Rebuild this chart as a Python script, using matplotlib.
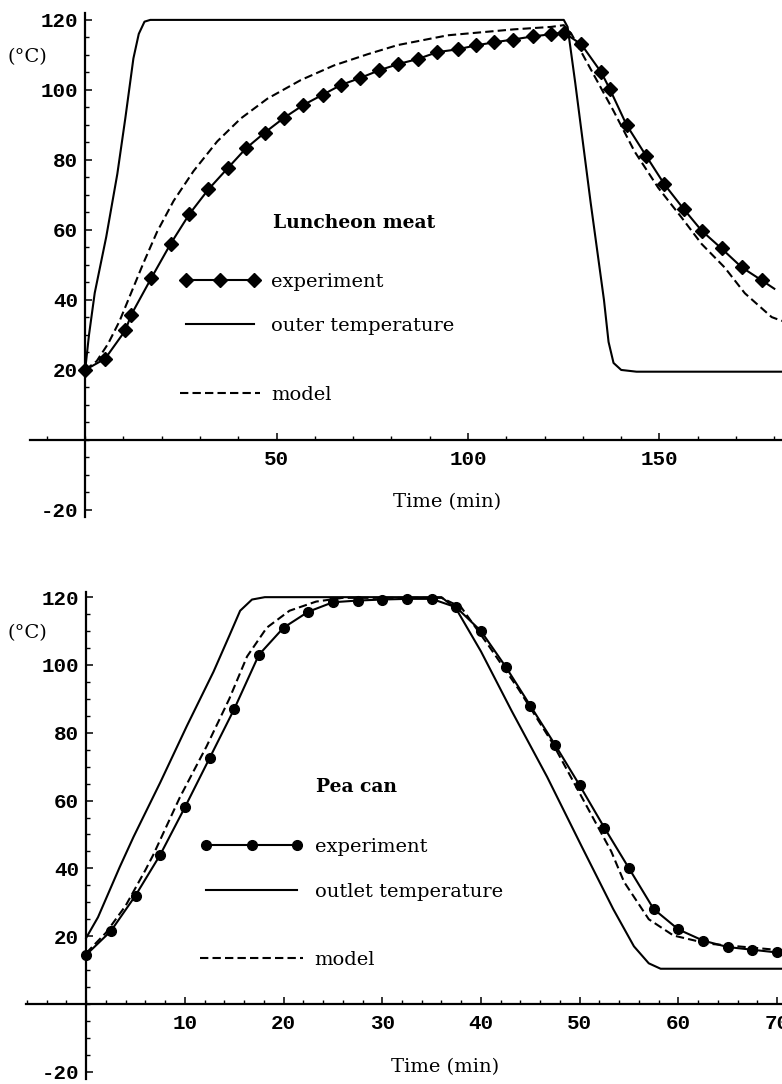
import matplotlib
matplotlib.use('Agg')
import matplotlib.pyplot as plt
from matplotlib.lines import Line2D
from matplotlib.ticker import FixedLocator, MultipleLocator

# --- Luncheon meat (top panel) ---
meat_exp_time = [0, 5.2, 10.5, 12, 17.3, 22.3, 27.2, 32.2, 37.2, 42, 46.9, 51.9, 57, 62,
                 66.8, 71.8, 76.8, 81.8, 86.8, 92, 97.3, 102, 106.8, 111.8, 117, 121.7,
                 125, 129.6, 134.8, 137, 141.4, 146.6, 151.3, 156.3, 161, 166.2, 171.5,
                 176.7, 180]
meat_exp_temp = [20, 23.2, 31.3, 35.7, 46.3, 56, 64.5, 71.6, 77.6, 83.3, 87.8, 92, 95.7, 98.6,
                 101.4, 103.4, 105.6, 107.4, 108.8, 110.8, 111.6, 112.7, 113.6, 114.4, 115.3,
                 115.9, 116.4, 113, 105, 100.3, 90, 81, 73, 66, 59.8, 54.7, 49.3, 45.6, 43.2]
meat_outer_time = [0, 1, 2.5, 5.5, 8.4, 10.5, 12.6, 14, 15.5, 17, 125, 126, 128, 130, 132,
                   134, 135.5, 136.7, 138, 140, 144, 182]
meat_outer_temp = [20, 30, 42, 58, 76, 92, 109, 116, 119.5, 120, 120, 118, 102, 85, 68,
                   52, 40, 28, 22, 20, 19.5, 19.5]
meat_model_time = [0, 3, 6, 9, 12, 15.2, 18.8, 23.1, 28.3, 34.5, 40.6, 47.6, 56.3, 65, 73.8,
                   81.6, 94.7, 112, 121.7, 125, 127, 130, 134, 138, 143.5, 149.7, 155.8, 161,
                   167, 172.3, 179.3, 182]
meat_model_temp = [20, 22.5, 27.5, 34, 42, 50.5, 59.5, 68.3, 76.8, 85.3, 91.8, 97.5, 102.8, 107,
                   110.2, 112.8, 115.6, 117.3, 118, 118.5, 116, 110, 102, 94, 82.4, 72, 63.5,
                   56, 49.3, 41.9, 35.1, 34]

# --- Pea can (bottom panel) ---
pea_exp_time = [0, 2.5, 5, 7.5, 10, 12.5, 15, 17.5, 20, 22.5, 25, 27.5, 30, 32.5, 35, 37.5,
                40, 42.5, 45, 47.5, 50, 52.5, 55, 57.5, 60, 62.5, 65, 67.5, 70]
pea_exp_temp = [14.5, 21.5, 32, 44, 58, 72.5, 87, 103, 111, 115.7, 118.5, 119, 119.3, 119.5,
                119.5, 117, 110, 99.5, 88, 76.5, 64.5, 52, 40, 28, 22, 18.7, 16.8, 16, 15.2]
pea_outlet_time = [0, 1.2, 3.4, 4.8, 7.5, 10.2, 12.9, 14.5, 15.6, 16.8, 18.1, 36, 37.5, 40,
                   43.1, 46.7, 50.2, 53.4, 55.5, 57, 58.2, 71]
pea_outlet_temp = [19.5, 25.6, 40.4, 49.3, 65.3, 82, 98, 108.6, 116, 119.3, 120, 120, 116.5,
                   104, 86.5, 67, 46.5, 28, 17, 12, 10.4, 10.4]
pea_model_time = [0, 2, 4, 6, 6.8, 9.5, 12.2, 14.5, 16.3, 18.3, 20.6, 23.3, 26, 36, 38, 40.8,
                  43.8, 47.2, 50.2, 53.2, 54.5, 57, 59.5, 63, 71]
pea_model_temp = [15, 21, 29, 39.5, 44, 61, 76, 90, 102.5, 111, 116, 118.7, 119.8, 119.8,
                  117, 105.6, 92.9, 77.2, 61.1, 45, 36, 25, 20.2, 17.8, 15.7]

y_ticks = [-20, 20, 40, 60, 80, 100, 120]
meat_x_ticks = [50, 100, 150]
pea_x_ticks = [10, 20, 30, 40, 50, 60, 70]

TICK_FONT = dict(family='Liberation Mono', weight='bold', size=15)
SERIF = 'DejaVu Serif'


def setup_axes(ax, xlim, ylim, xticks, xminor):
    ax.set_xlim(*xlim)
    ax.set_ylim(*ylim)
    ax.patch.set_alpha(0)
    for side in ['top', 'right']:
        ax.spines[side].set_visible(False)
    for side in ['left', 'bottom']:
        ax.spines[side].set_position(('data', 0))
        ax.spines[side].set_linewidth(1.6)
    ax.xaxis.set_major_locator(FixedLocator(xticks))
    ax.xaxis.set_minor_locator(MultipleLocator(xminor))
    ax.yaxis.set_major_locator(FixedLocator(y_ticks))
    ax.yaxis.set_minor_locator(MultipleLocator(5))
    ax.set_xticklabels([str(v) for v in xticks], fontdict=TICK_FONT)
    ax.set_yticklabels([str(v) for v in y_ticks], fontdict=TICK_FONT)
    ax.tick_params(which='major', direction='in', length=5, width=1.1)
    ax.tick_params(which='minor', direction='in', length=3, width=1)
    ax.tick_params(axis='x', which='major', pad=7)
    ax.tick_params(axis='y', which='major', pad=5)


def draw_panel(ax, exp, wall, model, marker, title, wall_label, leg_x, leg_y, model_y,
               hlen, spacing, title_xy):
    n_marks = len(exp[0]) - (1 if exp[0][-1] == 180 else 0)
    ax.plot(exp[0], exp[1], color='k', lw=1.5, marker=marker, ms=7,
            markevery=slice(0, n_marks))
    ax.plot(wall[0], wall[1], color='k', lw=1.5)
    ax.plot(model[0], model[1], color='k', lw=1.5, dashes=(4, 2))

    h_exp = Line2D([], [], color='k', lw=1.5, marker=marker, ms=7)
    h_wall = Line2D([], [], color='k', lw=1.5)
    h_model = Line2D([], [], color='k', lw=1.5, dashes=(4, 2))
    prop = {'family': SERIF, 'size': 14}
    leg1 = ax.legend([h_exp, h_wall], ['experiment', wall_label], loc='center left',
                     bbox_to_anchor=(leg_x, leg_y), frameon=False, prop=prop,
                     handlelength=hlen, handletextpad=0.6, labelspacing=spacing,
                     borderpad=0, borderaxespad=0, numpoints=3)
    ax.add_artist(leg1)
    ax.legend([h_model], ['model'], loc='center left', bbox_to_anchor=(leg_x, model_y),
              frameon=False, prop=prop, handlelength=hlen, handletextpad=0.6,
              borderpad=0, borderaxespad=0)
    ax.text(title_xy[0], title_xy[1], title, transform=ax.transAxes, family=SERIF,
            weight='bold', size=13.5, va='center', ha='left')


fig = plt.figure(figsize=(7.82, 10.84), dpi=100)

ax1 = fig.add_axes([0.0384, 0.5231, 0.9616, 0.465])
setup_axes(ax1, (-14.4, 182), (-22, 122), meat_x_ticks, 10)
draw_panel(ax1, (meat_exp_time, meat_exp_temp), (meat_outer_time, meat_outer_temp),
           (meat_model_time, meat_model_temp), 'D', 'Luncheon meat', 'outer temperature',
           0.1995, 0.4226, 0.242, 4.1, 1.37, (0.323, 0.584))

ax2 = fig.add_axes([0.0332, 0.005, 0.9668, 0.4488])
setup_axes(ax2, (-6.1, 70.5), (-22, 121.5), pea_x_ticks, 2)
draw_panel(ax2, (pea_exp_time, pea_exp_temp), (pea_outlet_time, pea_outlet_temp),
           (pea_model_time, pea_model_temp), 'o', 'Pea can', 'outlet temperature',
           0.2302, 0.4297, 0.2437, 5.3, 1.41, (0.384, 0.60))

for y in [57, 633]:
    fig.text(27 / 782, 1 - y / 1084, '(°C)', family=SERIF, size=14, ha='center', va='center')
for x, y in [(447, 502), (445, 1067)]:
    fig.text(x / 782, 1 - y / 1084, 'Time (min)', family=SERIF, size=14,
             ha='center', va='center')

fig.savefig('out.png', dpi=100)
